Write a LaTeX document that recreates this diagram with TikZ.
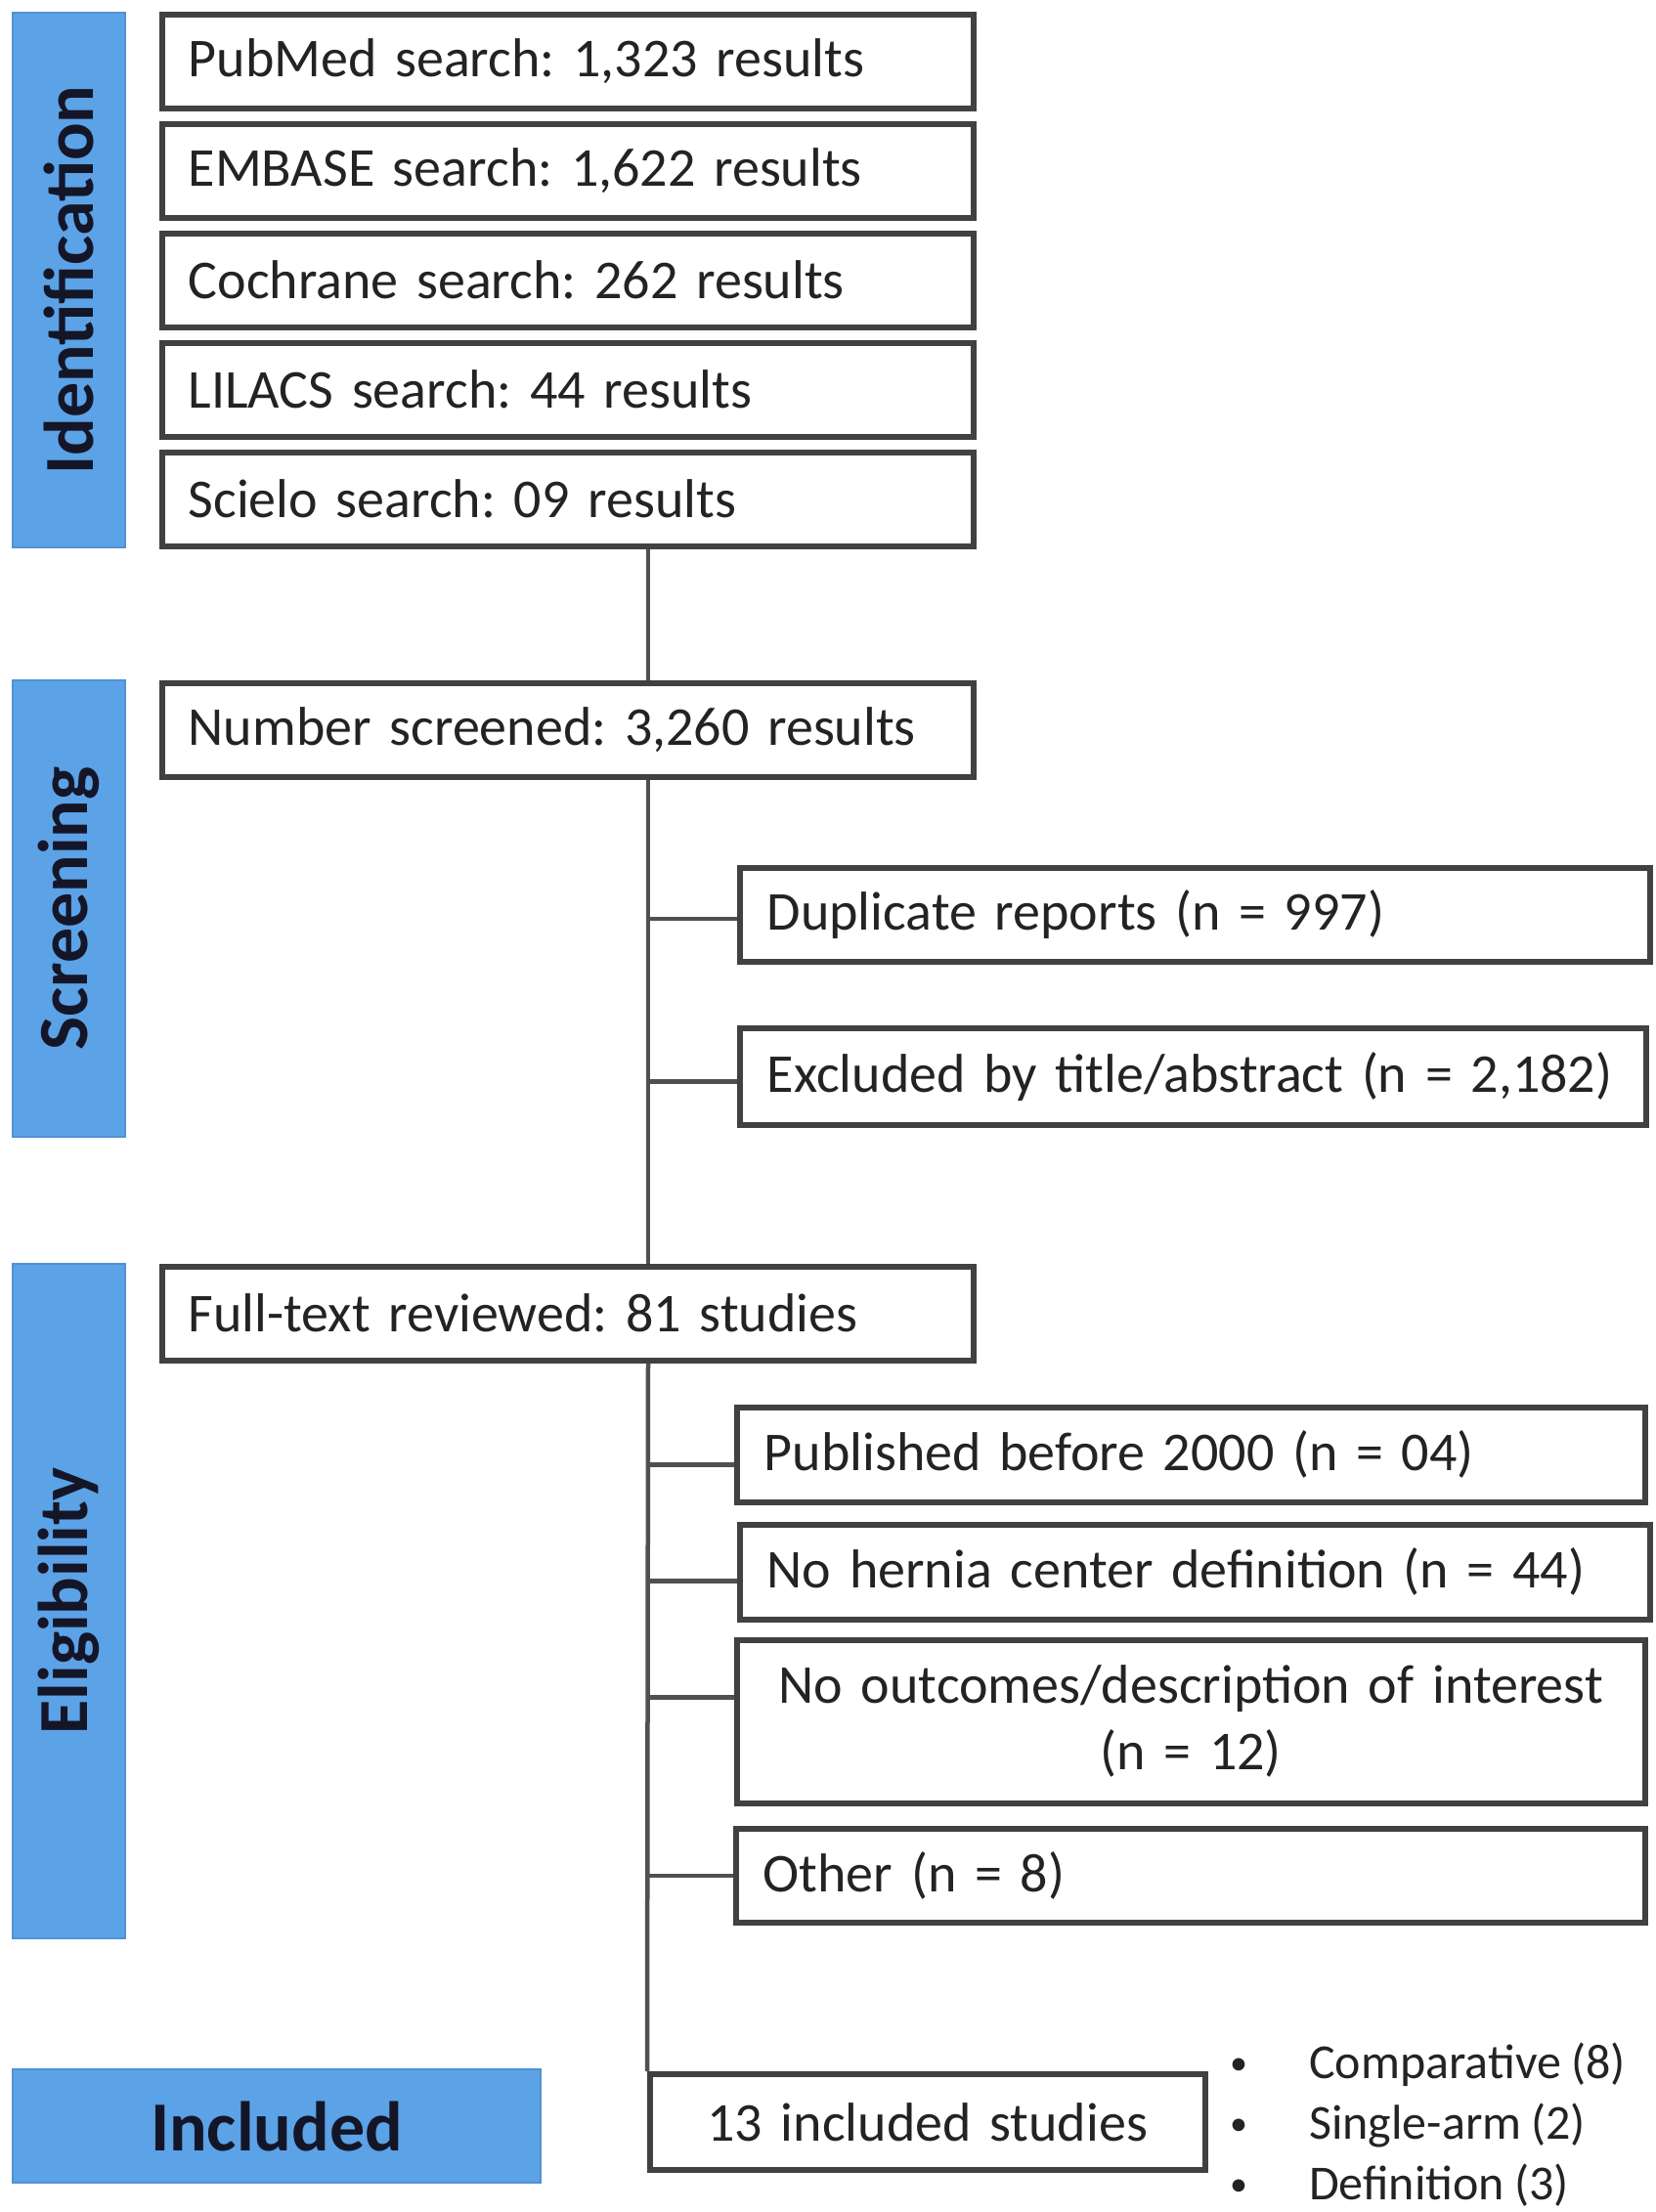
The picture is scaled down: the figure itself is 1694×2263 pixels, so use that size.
\documentclass[tikz,border=0pt]{standalone}
\usepackage{fontspec}
\setmainfont{Carlito}
\frenchspacing
\definecolor{boxgray}{RGB}{65,65,65}
\definecolor{linegray}{RGB}{80,80,80}
\definecolor{barblue}{RGB}{92,162,230}
\definecolor{baredge}{RGB}{80,145,215}
\definecolor{txt}{RGB}{35,35,35}
\definecolor{labtxt}{RGB}{20,22,40}
\newcommand{\mainfs}{\fontsize{56}{68}\selectfont\spaceskip 0.2em plus 0.05em minus 0.05em\relax}
\newcommand{\bulfs}{\fontsize{50}{62}\selectfont\spaceskip 0.2em\relax}
\newcommand{\blt}{\hbox to 81pt{\fontsize{36}{36}\selectfont\raisebox{4pt}{•}\hss}}
\begin{document}
\begin{tikzpicture}[x=1pt,y=-1pt,
  pbox/.style={draw=boxgray, line width=5.5pt, fill=white, anchor=north west,
    inner xsep=27pt, inner ysep=0pt, align=left, text=txt, font=\mainfs},
  bar/.style={fill=barblue, draw=baredge, line width=2pt, anchor=north west, inner sep=0pt},
  lab/.style={text=labtxt, font=\fontsize{72}{80}\selectfont\bfseries, inner sep=0pt},
  conn/.style={draw=linegray, line width=4.5pt}
]
\useasboundingbox (0,0) rectangle (1694,2263);

% phase bars
\node[bar, minimum width=115pt, minimum height=547pt] (identbar) at (12,12) {};
\node[lab, rotate=90] (identlab) at (identbar.center) {Identification};
\node[bar, minimum width=115pt, minimum height=467pt] (screenbar) at (12,695) {};
\node[lab, rotate=90] (screenlab) at (screenbar.center) {Screening};
\node[bar, minimum width=115pt, minimum height=690pt] (eligbar) at (12,1292) {};
\node[lab, rotate=90] (eliglab) at (eligbar.center) {Eligibility};
\node[bar, minimum width=540pt, minimum height=116pt] (inclbar) at (12,2116) {};
\node[lab] (incllab) at (inclbar.center) {Included};

% identification boxes
\node[pbox, minimum width=830pt, text width=776pt, minimum height=96pt] (pub) at (163,12) {PubMed search: 1,323 results};
\node[pbox, minimum width=830pt, text width=776pt, minimum height=96pt] (emb) at (163,124) {EMBASE search: 1,622 results};
\node[pbox, minimum width=830pt, text width=776pt, minimum height=96pt] (coch) at (163,236) {Cochrane search: 262 results};
\node[pbox, minimum width=830pt, text width=776pt, minimum height=96pt] (lil) at (163,348) {LILACS search: 44 results};
\node[pbox, minimum width=830pt, text width=776pt, minimum height=96pt] (sci) at (163,460) {Scielo search: 09 results};

% screening
\node[pbox, minimum width=830pt, text width=776pt, minimum height=96pt] (screen) at (163,696) {Number screened: 3,260 results};
\node[pbox, minimum width=931pt, text width=875pt, minimum height=96pt, inner xsep=28pt] (dup) at (754,885) {Duplicate reports (n = 997)};
\node[pbox, minimum width=927pt, text width=871pt, minimum height=99pt, inner xsep=28pt] (excl) at (754,1049) {Excluded by title/abstract (n = 2,182)};

% eligibility
\node[pbox, minimum width=830pt, text width=776pt, minimum height=96pt] (full) at (163,1293) {Full-text reviewed: 81 studies};
\node[pbox, minimum width=929pt, text width=873pt, minimum height=97pt, inner xsep=28pt] (publ) at (751,1437) {Published before 2000 (n = 04)};
\node[pbox, minimum width=931pt, text width=875pt, minimum height=97pt, inner xsep=28pt] (hern) at (754,1557) {No hernia center definition (n = 44)};
\node[pbox, minimum width=929pt, text width=873pt, minimum height=167pt, inner xsep=28pt, align=center] (outc) at (751,1675) {No outcomes/description of interest\\(n = 12)};
\node[pbox, minimum width=930pt, text width=874pt, minimum height=96pt, inner xsep=28pt] (oth) at (750,1868) {Other (n = 8)};

% included
\node[pbox, minimum width=568pt, text width=540pt, minimum height=98pt, inner xsep=14pt, align=center] (inc) at (662,2119) {13 included studies};
\node[anchor=west, inner sep=0pt, align=left, text=txt, font=\bulfs] (types) at (1258,2174)
  {\blt Comparative (8)\\\blt Single-arm (2)\\\blt Definition (3)};

% trunk
\coordinate (trunk) at ([xshift=500pt]full.south west);
\draw[conn] ([xshift=500pt]sci.south west) -- ([xshift=500pt]screen.north west);
\draw[conn] ([xshift=500pt]screen.south west) -- ([xshift=500pt]full.north west);
\draw[conn] ([xshift=500pt]full.south west) -- (inc.north west);

% branches
\coordinate (bdup) at ([yshift=-4pt]dup.west);
\draw[conn] (bdup -| trunk) -- (bdup);
\coordinate (bexcl) at ([yshift=-5pt]excl.west);
\draw[conn] (bexcl -| trunk) -- (bexcl);
\coordinate (bpubl) at ([yshift=-10pt]publ.west);
\draw[conn] (bpubl -| trunk) -- (bpubl);
\coordinate (bhern) at ([yshift=-9pt]hern.west);
\draw[conn] (bhern -| trunk) -- (bhern);
\coordinate (boutc) at ([yshift=25pt]outc.west);
\draw[conn] (boutc -| trunk) -- (boutc);
\coordinate (both) at (oth.west);
\draw[conn] (both -| trunk) -- (both);
\end{tikzpicture}
\end{document}
